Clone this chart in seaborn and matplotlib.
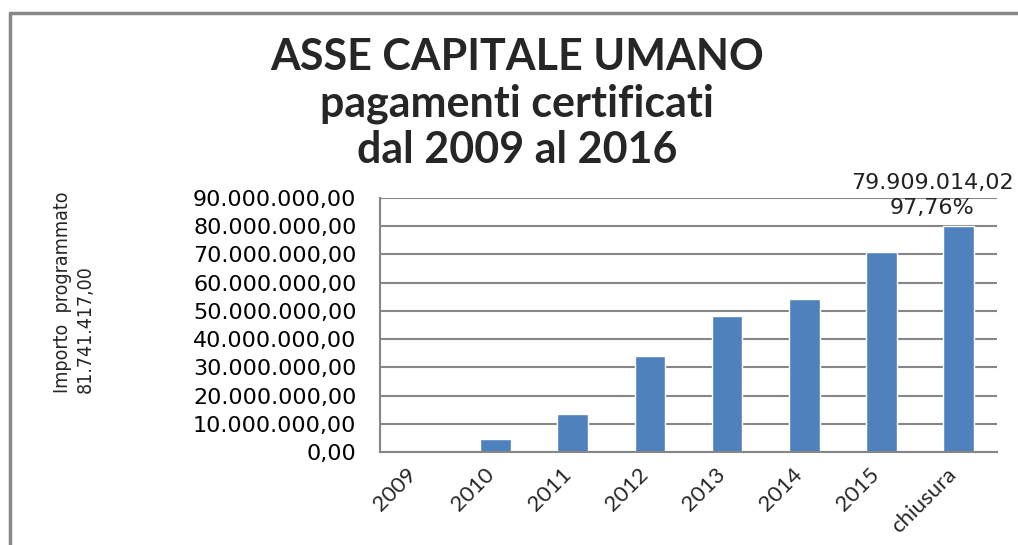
import seaborn as sns
import matplotlib.pyplot as plt
import matplotlib.transforms as mtransforms
from matplotlib import font_manager
from matplotlib.lines import Line2D
from matplotlib.ticker import FuncFormatter
import pandas as pd

# data
categories = ["2009", "2010", "2011", "2012", "2013", "2014", "2015", "chiusura"]
pagamenti = [0, 4600000, 13500000, 34100000, 48300000, 54300000, 70900000, 79909014.02]
importo_programmato = "81.741.417,00"
label_finale = "79.909.014,02\n97,76%"
title_lines = ["ASSE CAPITALE UMANO", "pagamenti certificati", "dal 2009 al 2016"]

sns.set_style("white")
plt.rcParams['font.family'] = ['DejaVu Sans']

installed = {f.name for f in font_manager.fontManager.ttflist}
narrow = "Liberation Sans Narrow" if "Liberation Sans Narrow" in installed else None

df = pd.DataFrame({"anno": categories, "importo": pagamenti})

W, H = 1018, 545
fig = plt.figure(figsize=(W / 100, H / 100), dpi=100)
ax = fig.add_axes([380 / W, 1 - 452 / H, (997 - 380) / W, (452 - 198) / H])

sns.barplot(data=df, x="anno", y="importo", color="#4F81BD", saturation=1,
            width=0.4, ax=ax)

ax.set_ylim(0, 90000000)
ax.set_yticks(range(0, 90000001, 10000000))

def it_fmt(v, pos):
    s = f"{v:,.2f}"
    return s.replace(",", "X").replace(".", ",").replace("X", ".")

ax.yaxis.set_major_formatter(FuncFormatter(it_fmt))
ax.grid(axis="y", color="#868686", linewidth=1.5)
ax.set_axisbelow(True)
for side in ["top", "right"]:
    ax.spines[side].set_visible(False)
for side in ["left", "bottom"]:
    ax.spines[side].set_color("#868686")
    ax.spines[side].set_linewidth(1.5)

ax.set_xlabel("")
ax.set_ylabel("")
ax.tick_params(axis="y", length=0, pad=17, labelsize=16, labelcolor="#000000")
ax.tick_params(axis="x", length=0, pad=14)
shift = mtransforms.ScaledTranslation(-0.05, 0, fig.dpi_scale_trans)
for lab in ax.get_xticklabels():
    lab.set_rotation(45)
    lab.set_ha("right")
    lab.set_va("center")
    lab.set_rotation_mode("anchor")
    lab.set_fontfamily(["Lato", "DejaVu Sans"])
    lab.set_fontsize(16)
    lab.set_transform(lab.get_transform() + shift)

# label above last bar
ax.text(len(categories) - 1.34, pagamenti[-1] + 3000000, label_finale,
        ha="center", va="bottom", fontsize=16, color="#222222",
        linespacing=1.3, clip_on=False)

# title, one line at a time
for txt, base in zip(title_lines, [70, 117, 163]):
    fig.text(517 / W, 1 - base / H, txt, ha="center", va="baseline",
             fontsize=31, fontweight="bold", family=["Lato", "DejaVu Sans"])

# vertical label on the left
ylab = "Importo  programmato\n" + importo_programmato
if narrow:
    fig.text(74 / W, 1 - 393 / H, ylab, rotation=90, ha="center", va="bottom",
             multialignment="left", fontsize=17,
             family=[narrow, "DejaVu Sans"], linespacing=1.1)
else:
    fig.text(74 / W, 1 - 393 / H, ylab, rotation=90, ha="center", va="bottom",
             multialignment="left", fontsize=14,
             family=["DejaVu Sans"], fontstretch="condensed", linespacing=1.25)

# chart border (top and left)
fig.add_artist(Line2D([9.5 / W, 1.0], [1 - 12.5 / H] * 2, color="#888888",
                      linewidth=2.5, transform=fig.transFigure))
fig.add_artist(Line2D([9.5 / W, 9.5 / W], [0, 1 - 12.5 / H], color="#888888",
                      linewidth=2.5, transform=fig.transFigure))

fig.savefig("out.png", dpi=100)
